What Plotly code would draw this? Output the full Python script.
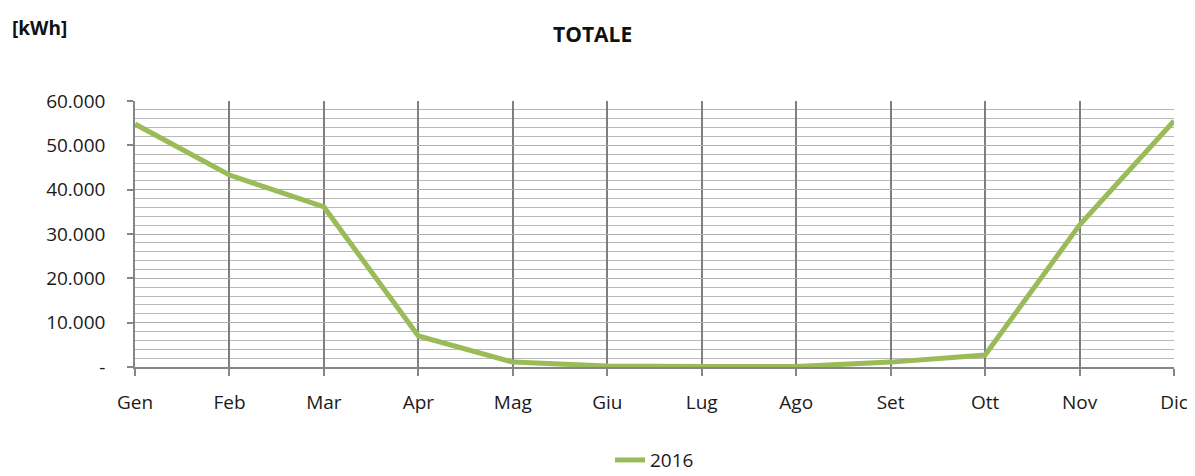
import plotly.graph_objects as go

months = ["Gen", "Feb", "Mar", "Apr", "Mag", "Giu", "Lug", "Ago", "Set", "Ott", "Nov", "Dic"]
values_2016 = [54800, 43300, 36100, 7000, 1100, 200, 100, 100, 1100, 2700, 32000, 55500]
y_tickvals = [0, 10000, 20000, 30000, 40000, 50000, 60000]
y_ticktext = ["-", "10.000", "20.000", "30.000", "40.000", "50.000", "60.000"]

FONT = "Open Sans, Lato, sans-serif"

fig = go.Figure()
fig.add_trace(go.Scatter(
    x=list(range(len(months))), y=values_2016, mode="lines", name="2016",
    line=dict(color="#9BBB59", width=5),
))

fig.update_layout(
    template="none",
    width=1187, height=468,
    margin=dict(l=127, r=21, t=93, b=109),
    paper_bgcolor="white", plot_bgcolor="white",
    font=dict(family=FONT, size=19, color="#1a1a1a"),
    title=dict(text="<b>TOTALE</b>", x=0.4925, xanchor="center", y=0.942, yanchor="middle",
               font=dict(family=FONT, size=21, color="#111111")),
    showlegend=True,
    legend=dict(orientation="h", x=0.5, xanchor="center", xref="paper",
                y=0.034, yref="container", yanchor="middle",
                bgcolor="rgba(0,0,0,0)",
                font=dict(family=FONT, size=19, color="#1a1a1a")),
    annotations=[dict(text="<b>[kWh]</b>", xref="paper", yref="paper", x=-0.1203, y=1.274,
                      xanchor="left", yanchor="middle", showarrow=False,
                      font=dict(family=FONT, size=19, color="#111111"))],
)

fig.update_xaxes(
    automargin=False,
    range=[0, 11], tickmode="array", tickvals=list(range(12)), ticktext=months,
    showgrid=True, gridcolor="#7f7f7f", gridwidth=1.6,
    showline=True, linecolor="#868686", linewidth=1.5,
    ticks="outside", ticklen=7, tickcolor="#868686", tickwidth=1.5,
    ticklabelstandoff=10,
    zeroline=False, mirror=False,
)
fig.update_yaxes(
    automargin=False,
    range=[0, 60000], tickmode="array", tickvals=y_tickvals, ticktext=y_ticktext,
    showgrid=True, gridcolor="#b0b0b0", gridwidth=1,
    minor=dict(dtick=2000, showgrid=True, gridcolor="#b8b8b8", gridwidth=1, ticks=""),
    showline=True, linecolor="#868686", linewidth=1.5,
    ticks="outside", ticklen=6, tickcolor="#868686", tickwidth=1.5,
    ticklabelstandoff=18, zeroline=False,
)

fig.write_html("out.html")
